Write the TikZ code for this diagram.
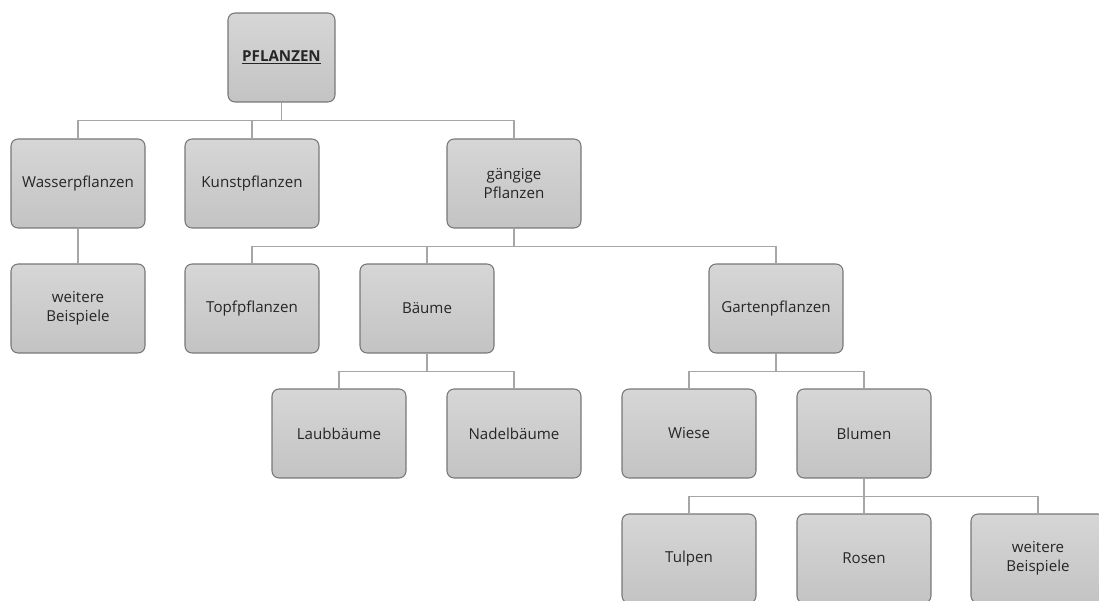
\documentclass[tikz,border=0pt]{standalone}
\usepackage{fontspec}
\setmainfont{Open Sans}
\usepackage{tikz}
\usetikzlibrary{positioning}
\definecolor{rahmen}{HTML}{777777}
\definecolor{linie}{HTML}{A6A6A6}
\tikzset{
	kasten/.style={draw=rahmen, line width=0.6pt, rounded corners=4pt, top color=gray!32, bottom color=gray!47,
		minimum width=2.68cm, minimum height=1.78cm, align=center, font=\fontsize{8.6}{11}\selectfont, text=black!85},
	kante/.style={draw=linie, line width=0.7pt}
}
\newcommand{\zweig}[2] % {von}{nach}, knick 18px unter dem oberen kasten
{
	\draw [kante] (#1.south) -- ++(0,18) -| (#2.north);
}

\begin{document}
\begin{tikzpicture}[x=0.02cm, y=-0.02cm]
	\useasboundingbox (0,0) rectangle (1099,601);
	\clip (0,0) rectangle (1099,601);
	
	\node[kasten, minimum width=2.14cm] (pflanzen) at (281.5,57.5) {\underline{\textbf{PFLANZEN}}};
	
	\node[kasten] (wasser) at (78,183.5) {Wasserpflanzen};
	\node[kasten] (kunst) at (252,183.5) {Kunstpflanzen};
	\node[kasten] (gaengig) at (514,183.5) {gängige\\Pflanzen};
	
	\node[kasten] (weitereA) at (78,308.5) {weitere\\Beispiele};
	\node[kasten] (topf) at (252,308.5) {Topfpflanzen};
	\node[kasten] (baeume) at (427,308.5) {Bäume};
	\node[kasten] (garten) at (776,308.5) {Gartenpflanzen};
	
	\node[kasten] (laub) at (339,433.5) {Laubbäume};
	\node[kasten] (nadel) at (514,433.5) {Nadelbäume};
	\node[kasten] (wiese) at (689,433.5) {Wiese};
	\node[kasten] (blumen) at (864,433.5) {Blumen};
	
	\node[kasten] (tulpen) at (689,558.5) {Tulpen};
	\node[kasten] (rosen) at (864,558.5) {Rosen};
	\node[kasten] (weitereB) at (1038,558.5) {weitere\\Beispiele};
	
	\zweig{pflanzen}{wasser}
	\zweig{pflanzen}{kunst}
	\zweig{pflanzen}{gaengig}
	\draw [kante] (wasser) -- (weitereA);
	\zweig{gaengig}{topf}
	\zweig{gaengig}{baeume}
	\zweig{gaengig}{garten}
	\zweig{baeume}{laub}
	\zweig{baeume}{nadel}
	\zweig{garten}{wiese}
	\zweig{garten}{blumen}
	\zweig{blumen}{tulpen}
	\zweig{blumen}{rosen}
	\zweig{blumen}{weitereB}
	
\end{tikzpicture}
\end{document}
